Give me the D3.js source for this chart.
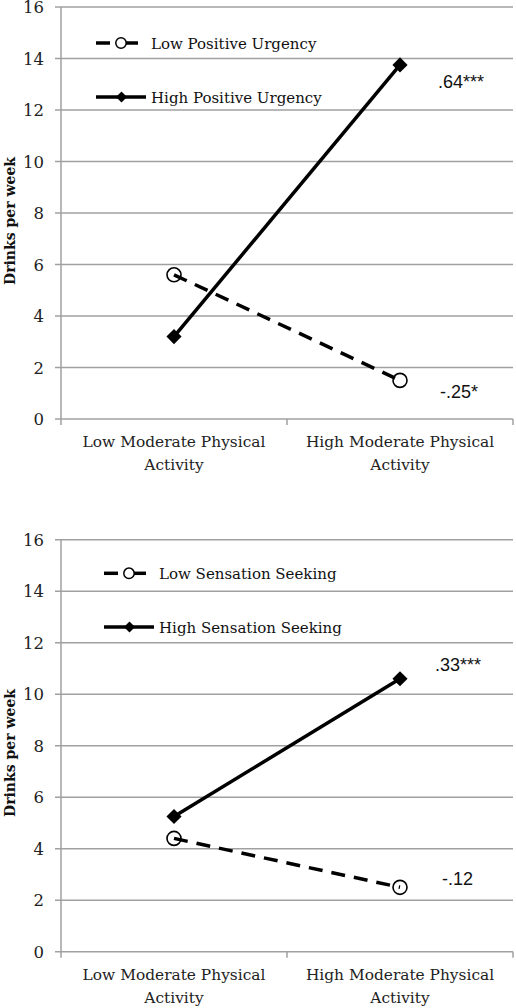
<!DOCTYPE html>
<html><head><meta charset="utf-8">
<script src="https://cdn.jsdelivr.net/npm/d3@7"></script>
<style>
body{margin:0;background:#fff;}
svg{display:block;}
</style></head>
<body>
<svg id="chart" width="516" height="1008"></svg>
<script>
const categories = [["Low Moderate Physical","Activity"],["High Moderate Physical","Activity"]];
const yTicks = [0,2,4,6,8,10,12,14,16];
const yTitle = "Drinks per week";

const topLowName = "Low Positive Urgency";
const topLowValues = [5.6, 1.5];
const topHighName = "High Positive Urgency";
const topHighValues = [3.2, 13.75];
const topLowNote = "-.25*";
const topHighNote = ".64***";

const botLowName = "Low Sensation Seeking";
const botLowValues = [4.4, 2.5];
const botHighName = "High Sensation Seeking";
const botHighValues = [5.25, 10.6];
const botLowNote = "-.12";
const botHighNote = ".33***";

const svg = d3.select("#chart");
const serif = "'DejaVu Serif', serif";
const sans = "'Liberation Sans', Arial, sans-serif";
const gridColor = "#a0a0a0";

function drawPanel(cfg){
  const g = svg.append("g");
  const x = d3.scaleBand().domain(categories.map((c,i)=>i)).range([61,513]).padding(0);
  const y = d3.scaleLinear().domain([0,16]).range([cfg.y0, cfg.y1]);

  g.selectAll("line.grid").data(yTicks).enter().append("line")
    .attr("x1",55).attr("x2",513)
    .attr("y1",d=>y(d)).attr("y2",d=>y(d))
    .attr("stroke",gridColor).attr("stroke-width",1.5);
  g.append("line").attr("x1",61).attr("x2",61).attr("y1",y(16)).attr("y2",y(0))
    .attr("stroke",gridColor).attr("stroke-width",1.5);
  const xt = [61, 287, 513];
  g.selectAll("line.xt").data(xt).enter().append("line")
    .attr("x1",d=>d).attr("x2",d=>d).attr("y1",y(0)).attr("y2",y(0)+6)
    .attr("stroke",gridColor).attr("stroke-width",1.5);
  g.selectAll("text.yt").data(yTicks).enter().append("text")
    .attr("x",44).attr("y",d=>y(d)+6)
    .attr("text-anchor","end").attr("font-family",serif).attr("font-size",16.5)
    .attr("fill","#222").text(d=>d);
  g.append("text")
    .attr("transform",`translate(15,${cfg.titleY}) rotate(-90)`)
    .attr("text-anchor","middle").attr("font-family",serif).attr("font-weight","bold")
    .attr("font-size",14).attr("fill","#111").text(yTitle);
  categories.forEach((c,i)=>{
    const t = g.append("text").attr("text-anchor","middle").attr("font-family",serif)
      .attr("font-size",15.4).attr("fill","#222");
    c.forEach((line,j)=>{
      t.append("tspan").attr("x",x(i)+x.bandwidth()/2).attr("y",y(0)+28+j*23).text(line);
    });
  });

  const lineGen = d3.line().x((d,i)=>x(i)+x.bandwidth()/2).y(d=>y(d));
  g.append("path").datum(cfg.highValues).attr("d",lineGen)
    .attr("fill","none").attr("stroke","#000").attr("stroke-width",3.5);
  g.selectAll("path.dia").data(cfg.highValues).enter().append("path")
    .attr("d",d3.symbol(d3.symbolSquare,115)())
    .attr("transform",(d,i)=>`translate(${x(i)+x.bandwidth()/2},${y(d)}) rotate(45)`)
    .attr("fill","#000");
  g.selectAll("circle.low").data(cfg.lowValues).enter().append("circle")
    .attr("cx",(d,i)=>x(i)+x.bandwidth()/2).attr("cy",d=>y(d)).attr("r",7)
    .attr("fill","#fff").attr("stroke","#000").attr("stroke-width",1.6);
  g.append("path").datum(cfg.lowValues).attr("d",lineGen)
    .attr("fill","none").attr("stroke","#000").attr("stroke-width",3.5)
    .attr("stroke-dasharray","14,9");

  g.append("text").attr("x",cfg.highNoteX).attr("y",y(cfg.highNoteV))
    .attr("font-family",sans).attr("font-size",18).attr("fill","#111").text(cfg.highNote);
  g.append("text").attr("x",cfg.lowNoteX).attr("y",y(cfg.lowNoteV))
    .attr("font-family",sans).attr("font-size",18).attr("fill","#111").text(cfg.lowNote);

  const lx = cfg.legX, ly1 = cfg.legY1, ly2 = cfg.legY2;
  g.append("line").attr("x1",lx).attr("x2",lx+14).attr("y1",ly1).attr("y2",ly1)
    .attr("stroke","#000").attr("stroke-width",3.5);
  g.append("line").attr("x1",lx+30).attr("x2",lx+42).attr("y1",ly1).attr("y2",ly1)
    .attr("stroke","#000").attr("stroke-width",3.5);
  g.append("circle").attr("cx",lx+25).attr("cy",ly1).attr("r",5.2)
    .attr("fill","#fff").attr("stroke","#000").attr("stroke-width",1.5);
  g.append("text").attr("x",lx+55).attr("y",ly1+5.5).attr("font-family",serif)
    .attr("font-size",15).attr("fill","#111").text(cfg.lowName);
  g.append("line").attr("x1",lx).attr("x2",lx+50).attr("y1",ly2).attr("y2",ly2)
    .attr("stroke","#000").attr("stroke-width",3.5);
  g.append("path").attr("d",d3.symbol(d3.symbolSquare,60)())
    .attr("transform",`translate(${lx+25.5},${ly2}) rotate(45)`).attr("fill","#000");
  g.append("text").attr("x",lx+55).attr("y",ly2+5.5).attr("font-family",serif)
    .attr("font-size",15).attr("fill","#111").text(cfg.highName);
}

drawPanel({y0:419, y1:7, titleY:221,
  lowValues:topLowValues, highValues:topHighValues,
  lowName:topLowName, highName:topHighName,
  lowNote:topLowNote, highNote:topHighNote,
  highNoteX:438, highNoteV:12.85, lowNoteX:440, lowNoteV:0.8,
  legX:96, legY1:43, legY2:97});

drawPanel({y0:951.7, y1:539.7, titleY:753,
  lowValues:botLowValues, highValues:botHighValues,
  lowName:botLowName, highName:botHighName,
  lowNote:botLowNote, highNote:botHighNote,
  highNoteX:435, highNoteV:10.9, lowNoteX:442, lowNoteV:2.6,
  legX:104, legY1:573.3, legY2:627});
</script>
</body></html>
